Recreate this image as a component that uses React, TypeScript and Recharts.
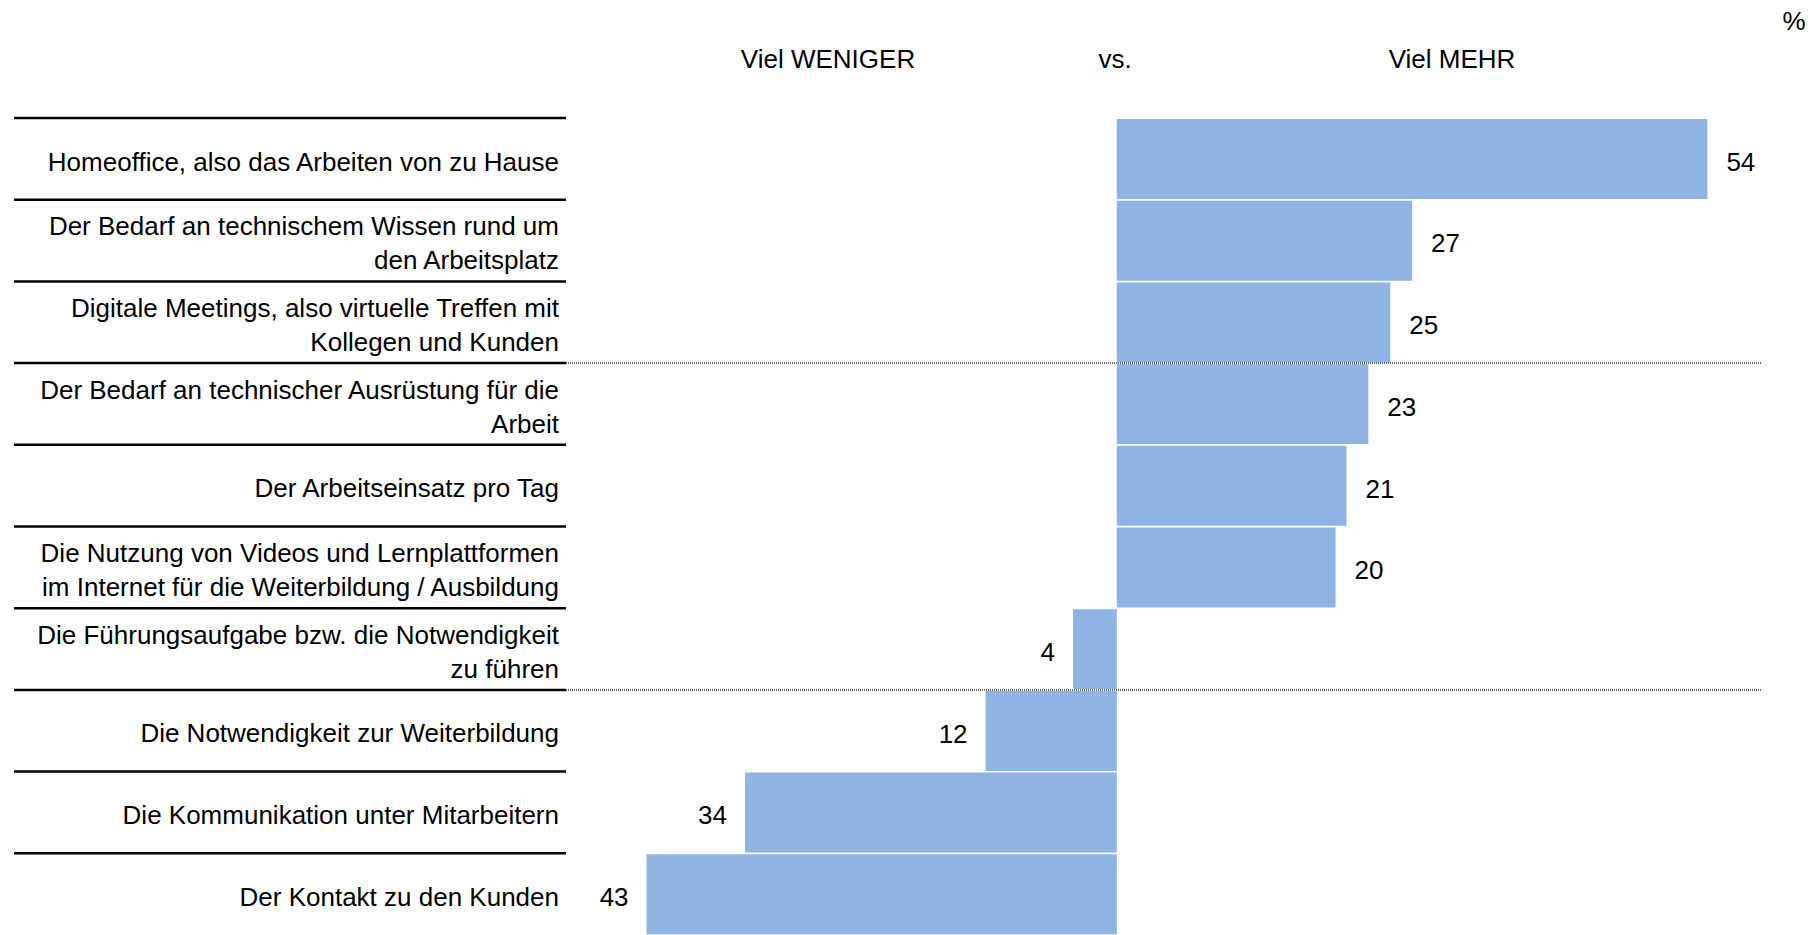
/*
 * Diverging bar chart: "Viel WENIGER" vs. "Viel MEHR" (percent).
 * Uses Recharts, vertical layout, labels drawn by a custom tick.
 */
import { Bar, BarChart, LabelList, XAxis, YAxis } from 'recharts';

const FONT = "'Liberation Sans', Arial, sans-serif";
const BAR_COLOR = '#8EB4E3';

const categories = [
  'Homeoffice, also das Arbeiten von zu Hause',
  'Der Bedarf an technischem Wissen rund um\nden Arbeitsplatz',
  'Digitale Meetings, also virtuelle Treffen mit\nKollegen und Kunden',
  'Der Bedarf an technischer Ausrüstung für die\nArbeit',
  'Der Arbeitseinsatz pro Tag',
  'Die Nutzung von Videos und Lernplattformen\nim Internet für die Weiterbildung / Ausbildung',
  'Die Führungsaufgabe bzw. die Notwendigkeit\nzu führen',
  'Die Notwendigkeit zur Weiterbildung',
  'Die Kommunikation unter Mitarbeitern',
  'Der Kontakt zu den Kunden',
];

// negative = "Viel WENIGER", positive = "Viel MEHR"
const values = [54, 27, 25, 23, 21, 20, -4, -12, -34, -43];

// rows whose top edge gets the dotted divider across the plot
const groupBreaks = [3, 7];

const headers = { left: 'Viel WENIGER', middle: 'vs.', right: 'Viel MEHR', unit: '%' };

const data = categories.map((name, i) => ({ name, value: values[i] }));

const W = 1818;
const H = 935;
const TOP = 118;
const ROW_H = (H - TOP) / categories.length;

function CategoryTick(props: any) {
  const { x, y, payload, index } = props;
  const half = payload?.offset || ROW_H / 2;
  const lines = String(payload.value).split('\n');
  const lineH = 34;
  const top = y - half;
  const start = y - ((lines.length - 1) * lineH) / 2;
  return (
    <g>
      <line x1={14} x2={x + 7} y1={top} y2={top} stroke="#000" strokeWidth={2.5} />
      {groupBreaks.includes(index) && (
        <line
          x1={x + 7}
          x2={1762}
          y1={top}
          y2={top}
          stroke="#6a6a6a"
          strokeWidth={2}
          strokeDasharray="1 1"
        />
      )}
      <text x={x} y={start} textAnchor="end" fontSize={26} fontFamily={FONT} fill="#000">
        {lines.map((l, i) => (
          <tspan key={i} x={x} dy={i === 0 ? '0.45em' : lineH}>
            {l}
          </tspan>
        ))}
      </text>
    </g>
  );
}

function ValueLabel(props: any) {
  const { x, y, width, height, value } = props;
  const cy = y + height / 2;
  const left = Math.min(x, x + width);
  const right = Math.max(x, x + width);
  const neg = value < 0;
  return (
    <text
      x={neg ? left - 18 : right + 19}
      y={cy}
      dy="0.45em"
      textAnchor={neg ? 'end' : 'start'}
      fontSize={26}
      fontFamily={FONT}
      fill="#000"
    >
      {Math.abs(value)}
    </text>
  );
}

const headStyle: React.CSSProperties = {
  position: 'absolute',
  fontFamily: FONT,
  fontSize: 26,
  lineHeight: '30px',
  color: '#000',
  transform: 'translate(-50%, -50%)',
  whiteSpace: 'nowrap',
};

export default function App() {
  return (
    <div style={{ position: 'absolute', left: 0, top: 0, width: W, height: H, background: '#fff' }}>
      <div style={{ ...headStyle, left: 828, top: 59 }}>{headers.left}</div>
      <div style={{ ...headStyle, left: 1115, top: 59 }}>{headers.middle}</div>
      <div style={{ ...headStyle, left: 1452, top: 59 }}>{headers.right}</div>
      <div style={{ ...headStyle, left: 1794, top: 21 }}>{headers.unit}</div>
      <BarChart
        width={W}
        height={H}
        data={data}
        layout="vertical"
        margin={{ top: TOP, right: 45, bottom: 0, left: 0 }}
        barCategoryGap={1}
      >
        <YAxis
          type="category"
          dataKey="name"
          width={570}
          axisLine={false}
          tickLine={false}
          tickMargin={5}
          interval={0}
          tick={<CategoryTick />}
        />
        <XAxis type="number" domain={[-50, 60]} hide allowDataOverflow />
        <Bar dataKey="value" fill={BAR_COLOR} isAnimationActive={false}>
          <LabelList dataKey="value" content={<ValueLabel />} />
        </Bar>
      </BarChart>
    </div>
  );
}
